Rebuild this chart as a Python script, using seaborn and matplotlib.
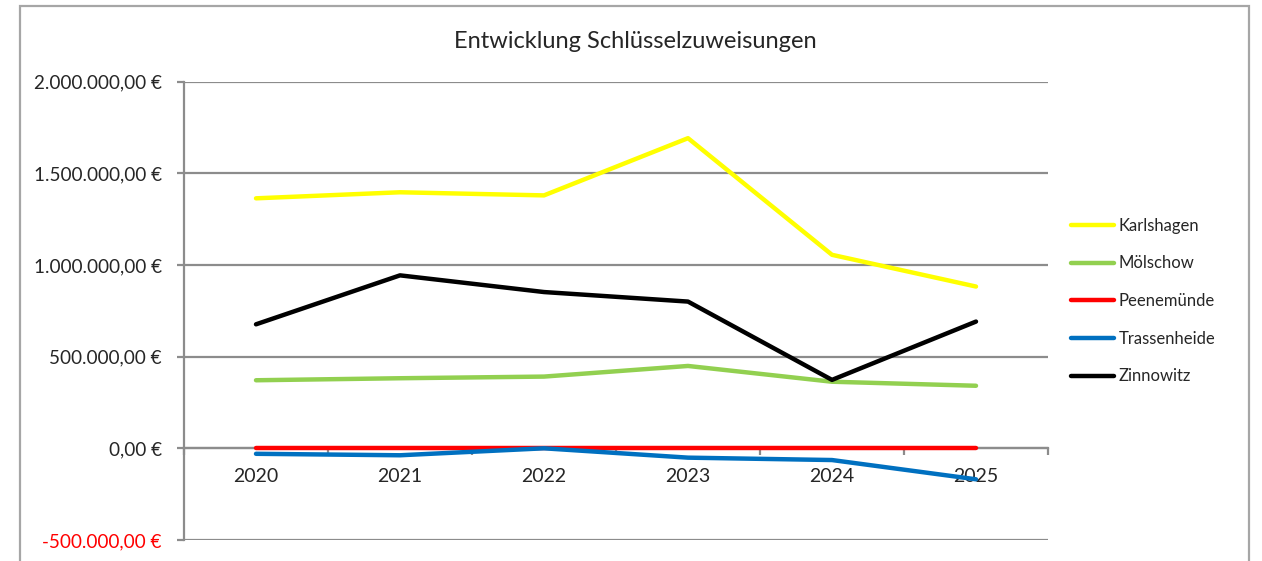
import matplotlib
matplotlib.use("Agg")
import matplotlib.pyplot as plt
import matplotlib.ticker as mticker
from matplotlib.patches import Rectangle
import pandas as pd
import seaborn as sns

# Jahre und Schlüsselzuweisungen je Gemeinde (in Euro, aus dem Bild geschätzt)
years = ["2020", "2021", "2022", "2023", "2024", "2025"]
karlshagen = [1363000, 1396000, 1379000, 1691000, 1055000, 882000]
moelschow = [371000, 382000, 391000, 449000, 363000, 341000]
peenemuende = [0, 0, 0, 0, 0, 0]
trassenheide = [-30000, -38000, 0, -51000, -64000, -169000]
zinnowitz = [676000, 943000, 852000, 800000, 373000, 691000]

series = {
    "Karlshagen": karlshagen,
    "Mölschow": moelschow,
    "Peenemünde": peenemuende,
    "Trassenheide": trassenheide,
    "Zinnowitz": zinnowitz,
}
colors = ["#FFFF00", "#92D050", "#FF0000", "#0070C0", "#000000"]

rows = []
for name, vals in series.items():
    for i, v in enumerate(vals):
        rows.append({"idx": i, "Gemeinde": name, "Betrag": v})
df = pd.DataFrame(rows)

sns.set_style("white")
plt.rcParams["font.family"] = ["Lato", "DejaVu Sans"]

fig = plt.figure(figsize=(12.62, 5.61), dpi=100)
ax = fig.add_axes([184 / 1262, 1 - 540 / 561, (1048 - 184) / 1262, (540 - 81.5) / 561])

grid_col = "#8c8c8c"

sns.lineplot(data=df, x="idx", y="Betrag", hue="Gemeinde",
             palette=colors, linewidth=3.2, ax=ax, legend=True)
# series lines above the axis line at zero
for line in ax.get_lines():
    line.set_zorder(4)

ax.set_xlim(-0.5, len(years) - 0.5)
ax.set_ylim(-500000, 2000000)
ax.yaxis.set_major_locator(mticker.MultipleLocator(500000))


def euro(v, pos):
    s = f"{v:,.2f}".replace(",", "X").replace(".", ",").replace("X", ".")
    return s + " €"


ax.yaxis.set_major_formatter(mticker.FuncFormatter(euro))
ax.grid(axis="y", color=grid_col, linewidth=1.6)
ax.set_axisbelow(True)

# category axis crossing at zero, ticks between categories
ax.spines["bottom"].set_position(("data", 0))
ax.spines["bottom"].set_color(grid_col)
ax.spines["bottom"].set_linewidth(1.6)
ax.spines["left"].set_color(grid_col)
ax.spines["left"].set_linewidth(1.6)
ax.spines["top"].set_visible(False)
ax.spines["right"].set_visible(False)

ax.set_xticks([k - 0.5 for k in range(len(years) + 1)])
ax.set_xticklabels([])
ax.set_xticks(range(len(years)), minor=True)
ax.set_xticklabels(years, minor=True)
ax.tick_params(axis="x", which="major", direction="out", length=5,
               width=1.6, color=grid_col, bottom=True)
ax.tick_params(axis="x", which="minor", length=0, pad=14, labelsize=14,
               bottom=True)
ax.tick_params(axis="y", direction="out", length=5, width=1.6,
               color=grid_col, left=True, pad=11, labelsize=13.6)

for lbl, val in zip(ax.get_yticklabels(), ax.get_yticks()):
    if val < 0:
        lbl.set_color("#FF0000")

ax.set_xlabel("")
ax.set_ylabel("")

fig.text(635 / 1262, 1 - 41 / 561, "Entwicklung Schlüsselzuweisungen",
         ha="center", va="center", fontsize=17)

leg = ax.legend(loc="center left", bbox_to_anchor=(1064 / 1262, 1 - 301 / 561),
                bbox_transform=fig.transFigure, frameon=False, fontsize=12,
                handlelength=2.6, handletextpad=0.3, labelspacing=1.3,
                borderaxespad=0)
for line in leg.get_lines():
    line.set_linewidth(3.2)

# outer chart frame
fig.patches.append(Rectangle((20 / 1262, -0.1), (1249 - 20) / 1262, 1.1 - 6 / 561,
                             transform=fig.transFigure, fill=False,
                             edgecolor="#a6a6a6", linewidth=1.6))

fig.savefig("out.png", dpi=100)
